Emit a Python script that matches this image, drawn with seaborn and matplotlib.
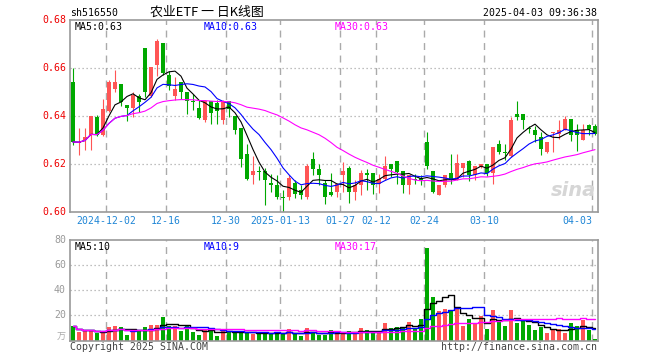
import numpy as np
import pandas as pd
import matplotlib
matplotlib.use("Agg")
import matplotlib.pyplot as plt
import seaborn as sns

# ---------------- data ----------------
opens = [0.6543, 0.6289, 0.6300, 0.6321, 0.6397, 0.6321, 0.6422, 0.6515, 0.6533, 0.6449,
         0.6435, 0.6483, 0.6683, 0.6483, 0.6613, 0.6706, 0.6571, 0.6483, 0.6543, 0.6501,
         0.6461, 0.6435, 0.6383, 0.6463, 0.6456, 0.6383, 0.6463, 0.6400, 0.6353, 0.6242,
         0.6154, 0.6169, 0.6171, 0.6122, 0.6113, 0.6061, 0.6064, 0.6122, 0.6092, 0.6064,
         0.6220, 0.6182, 0.6122, 0.6085, 0.6085, 0.6154, 0.6185, 0.6085, 0.6113, 0.6164,
         0.6164, 0.6119, 0.6140, 0.6203, 0.6213, 0.6171, 0.6113, 0.6140, 0.6143, 0.6293,
         0.6171, 0.6074, 0.6113, 0.6164, 0.6136, 0.6185, 0.6214, 0.6154, 0.6189, 0.6203,
         0.6164, 0.6283, 0.6248, 0.6233, 0.6411, 0.6411, 0.6350, 0.6342, 0.6314, 0.6251,
         0.6332, 0.6328, 0.6342, 0.6390, 0.6342, 0.6303, 0.6362, 0.6358]
highs = [0.6603, 0.6351, 0.6351, 0.6403, 0.6404, 0.6474, 0.6550, 0.6592, 0.6533, 0.6449,
         0.6501, 0.6492, 0.6683, 0.6606, 0.6721, 0.6706, 0.6589, 0.6564, 0.6543, 0.6501,
         0.6492, 0.6467, 0.6467, 0.6463, 0.6467, 0.6467, 0.6463, 0.6400, 0.6353, 0.6283,
         0.6233, 0.6192, 0.6186, 0.6158, 0.6154, 0.6092, 0.6154, 0.6136, 0.6113, 0.6203,
         0.6251, 0.6203, 0.6136, 0.6164, 0.6122, 0.6210, 0.6192, 0.6133, 0.6178, 0.6182,
         0.6164, 0.6161, 0.6233, 0.6203, 0.6213, 0.6171, 0.6154, 0.6161, 0.6154, 0.6335,
         0.6171, 0.6113, 0.6154, 0.6244, 0.6244, 0.6206, 0.6219, 0.6192, 0.6203, 0.6203,
         0.6272, 0.6303, 0.6283, 0.6397, 0.6464, 0.6411, 0.6358, 0.6358, 0.6335, 0.6293,
         0.6335, 0.6386, 0.6400, 0.6390, 0.6369, 0.6367, 0.6369, 0.6369]
lows = [0.6279, 0.6238, 0.6261, 0.6261, 0.6317, 0.6317, 0.6418, 0.6501, 0.6442, 0.6381,
        0.6397, 0.6418, 0.6480, 0.6480, 0.6567, 0.6571, 0.6508, 0.6467, 0.6474, 0.6411,
        0.6428, 0.6388, 0.6376, 0.6369, 0.6369, 0.6369, 0.6397, 0.6328, 0.6189, 0.6136,
        0.6119, 0.6136, 0.6029, 0.6085, 0.6054, 0.6001, 0.6050, 0.6061, 0.6057, 0.6057,
        0.6154, 0.6113, 0.6033, 0.6067, 0.6064, 0.6085, 0.6039, 0.6050, 0.6071, 0.6092,
        0.6078, 0.6081, 0.6136, 0.6147, 0.6119, 0.6081, 0.6078, 0.6119, 0.6113, 0.6182,
        0.6081, 0.6071, 0.6106, 0.6119, 0.6133, 0.6147, 0.6131, 0.6136, 0.6185, 0.6150,
        0.6117, 0.6242, 0.6217, 0.6231, 0.6383, 0.6349, 0.6330, 0.6293, 0.6238, 0.6247,
        0.6251, 0.6307, 0.6342, 0.6297, 0.6256, 0.6300, 0.6321, 0.6321]
closes = [0.6293, 0.6291, 0.6314, 0.6400, 0.6321, 0.6432, 0.6543, 0.6543, 0.6460, 0.6435,
          0.6488, 0.6460, 0.6501, 0.6606, 0.6714, 0.6581, 0.6525, 0.6515, 0.6501, 0.6464,
          0.6460, 0.6394, 0.6463, 0.6414, 0.6422, 0.6463, 0.6432, 0.6342, 0.6224, 0.6140,
          0.6171, 0.6168, 0.6136, 0.6115, 0.6064, 0.6060, 0.6143, 0.6078, 0.6071, 0.6192,
          0.6182, 0.6154, 0.6064, 0.6071, 0.6119, 0.6171, 0.6085, 0.6113, 0.6164, 0.6154,
          0.6113, 0.6140, 0.6192, 0.6182, 0.6168, 0.6113, 0.6154, 0.6133, 0.6133, 0.6192,
          0.6085, 0.6113, 0.6154, 0.6136, 0.6206, 0.6206, 0.6154, 0.6192, 0.6203, 0.6164,
          0.6272, 0.6251, 0.6247, 0.6383, 0.6397, 0.6386, 0.6349, 0.6321, 0.6265, 0.6293,
          0.6335, 0.6342, 0.6390, 0.6321, 0.6321, 0.6342, 0.6349, 0.6328]
volumes = [11.2, 6.6, 7.9, 7.4, 5.8, 7.1, 10.6, 11.4, 11.1, 4.2,
           7.4, 7.9, 10.6, 12.2, 12.2, 18.6, 11.2, 11.7, 7.4, 11.9,
           6.6, 4.2, 9.3, 9.0, 3.4, 7.4, 7.9, 6.6, 6.6, 6.9,
           5.0, 6.1, 7.1, 6.1, 5.5, 5.3, 9.0, 5.5, 3.7, 9.8,
           6.1, 4.5, 4.5, 8.2, 7.4, 5.4, 7.4, 6.6, 9.8, 8.2,
           6.1, 6.6, 14.1, 10.1, 11.1, 10.1, 14.6, 10.1, 17.0, 73.8,
           34.6, 23.4, 25.0, 23.4, 25.3, 11.4, 17.0, 14.1, 19.9, 9.0,
           24.2, 16.0, 11.9, 24.2, 13.8, 15.7, 12.7, 8.2, 10.6, 5.8,
           9.5, 9.0, 5.8, 13.8, 11.9, 16.0, 8.2, 0.8]

date_labels = ["2024-12-02", "12-16", "12-30", "2025-01-13", "01-27",
               "02-12", "02-24", "03-10", "04-03"]
date_index = [6, 16, 26, 35, 45, 51, 59, 69, 87]
price_ticks = [0.68, 0.66, 0.64, 0.62, 0.60]
volume_ticks = [80, 60, 40, 20]
ma_windows = [5, 10, 30]
ma_colors = ["#000000", "#0000ff", "#ff00ff"]

# ---------------- styling ----------------
sns.set_style("white")
plt.rcParams["font.family"] = ["DejaVu Sans Mono", "Noto Sans CJK SC"]

W, H = 660, 360
fig = plt.figure(figsize=(6.6, 3.6), dpi=100)
fig.patch.set_facecolor("white")

def fx(x):
    return x / W

def fy(y):
    return 1 - y / H

TOP, BOT = 20.3, 212.3
VTOP, VBOT = 240.0, 340.5
LEFT, RIGHT = 70.0, 597.7
ax = fig.add_axes([fx(LEFT), fy(BOT), (RIGHT - LEFT) / W, (BOT - TOP) / H])
axv = fig.add_axes([fx(LEFT), fy(VBOT), (RIGHT - LEFT) / W, (VBOT - VTOP) / H])

n = len(closes)
idx = np.arange(n)
df = pd.DataFrame({"i": idx, "open": opens, "high": highs, "low": lows,
                   "close": closes, "volume": volumes})
RED, GREEN = "#ff5555", "#00a800"
df["color"] = np.where(df["close"] >= df["open"], RED, GREEN)

GRID = "#aaaaaa"
for a in (ax, axv):
    a.set_xlim(-0.5, 87.45)
    a.set_xticks([])
    a.set_yticks([])
    a.set_facecolor("white")
    for s in a.spines.values():
        s.set_color("#999999")
        s.set_linewidth(1.2)
    for di in date_index:
        a.axvline(di - 0.5, color=GRID, lw=1.0, ls=(0, (5, 4)), zorder=0)

ax.set_ylim(0.60, 0.68)
axv.set_ylim(0, 80)
for p in price_ticks[1:-1]:
    ax.axhline(p, color=GRID, lw=0.9, ls=(0, (1, 2.2)), zorder=0)
for v in volume_ticks[1:]:
    axv.axhline(v, color=GRID, lw=0.9, ls=(0, (1, 2.2)), zorder=0)

# candles
bw = 0.83
px_price = 0.02 / 48.0
ax.vlines(df["i"], df["low"], df["high"], colors=df["color"], lw=0.8, zorder=2)
body_bottom = np.minimum(df["open"], df["close"])
body_h = np.maximum(np.abs(df["close"] - df["open"]), px_price)
ax.bar(df["i"], body_h, bottom=body_bottom, width=bw, color=df["color"],
       linewidth=0, zorder=3)

# price moving averages
ma_vals = {}
for w, c in zip(ma_windows, ma_colors):
    ma = df["close"].rolling(w, min_periods=1).mean()
    ma_vals[w] = ma
    sns.lineplot(x=df["i"], y=ma, ax=ax, color=c, lw=0.8, estimator=None,
                 sort=False, zorder=4)

# volume
axv.bar(df["i"], df["volume"], width=bw, color=df["color"], linewidth=0, zorder=2)
vma_vals = {}
for w, c in zip(ma_windows, ma_colors):
    vma = df["volume"].rolling(w, min_periods=1).mean()
    vma_vals[w] = vma
    sns.lineplot(x=df["i"], y=vma, ax=axv, color=c, lw=1.0, estimator=None,
                 sort=False, drawstyle="steps-mid", zorder=4)
for a in (ax, axv):
    a.set_xlabel("")
    a.set_ylabel("")
    leg = a.get_legend()
    if leg:
        leg.remove()

FS = 7.1
# header texts
fig.text(fx(70), fy(13), "sh516550", fontsize=FS, color="black", va="center", ha="left")
fig.text(fx(150), fy(12), "农业ETF 一 日K线图", fontsize=9.3, color="black",
         va="center", ha="left", family=["Noto Sans CJK SC", "DejaVu Sans Mono"])
fig.text(fx(597), fy(13), "2025-04-03 09:36:38", fontsize=FS, color="black",
         va="center", ha="right")

# MA labels (price)
ma_pos = [75, 204, 335]
for w, c, x in zip(ma_windows, ma_colors, ma_pos):
    fig.text(fx(x), fy(26.5), f"MA{w}:{ma_vals[w].iloc[-1]:.2f}", fontsize=FS,
             color=c, va="center", ha="left")
for w, c, x in zip(ma_windows, ma_colors, ma_pos):
    fig.text(fx(x), fy(246.5), f"MA{w}:{vma_vals[w].iloc[-1]:.0f}", fontsize=FS,
             color=c, va="center", ha="left")

# price tick labels
for p in price_ticks:
    y = TOP + (0.68 - p) / 0.08 * (BOT - TOP)
    fig.text(fx(66), fy(y), f"{p:.2f}", fontsize=FS, color="#ee0000",
             va="center", ha="right")
# volume tick labels
for v in volume_ticks:
    y = VBOT - v / 80 * (VBOT - VTOP)
    fig.text(fx(66), fy(y), f"{v}", fontsize=FS, color="#999999",
             va="center", ha="right")
fig.text(fx(66), fy(337), "万", fontsize=6.5, color="#aaaaaa", va="center", ha="right",
         family=["Noto Sans CJK SC", "DejaVu Sans Mono"])

# date labels
for lab, di in zip(date_labels, date_index):
    xg = LEFT + di * 6.0
    ha = "right" if di == date_index[-1] else "center"
    fig.text(fx(xg), fy(221.5), lab, fontsize=FS, color="#1f86d6",
             va="center", ha=ha)

# footer
fig.text(fx(70), fy(346.5), "Copyright 2025 SINA.COM", fontsize=FS, color="#444444",
         va="center", ha="left")
fig.text(fx(597), fy(346.5), "http://finance.sina.com.cn", fontsize=FS, color="#444444",
         va="center", ha="right")

# watermark
fig.text(fx(596), fy(190), "sina", fontsize=14, color="#d6d6d6", style="italic",
         weight="bold", va="center", ha="right", family="DejaVu Sans", zorder=0)

fig.savefig("out.png", dpi=100, facecolor="white")
